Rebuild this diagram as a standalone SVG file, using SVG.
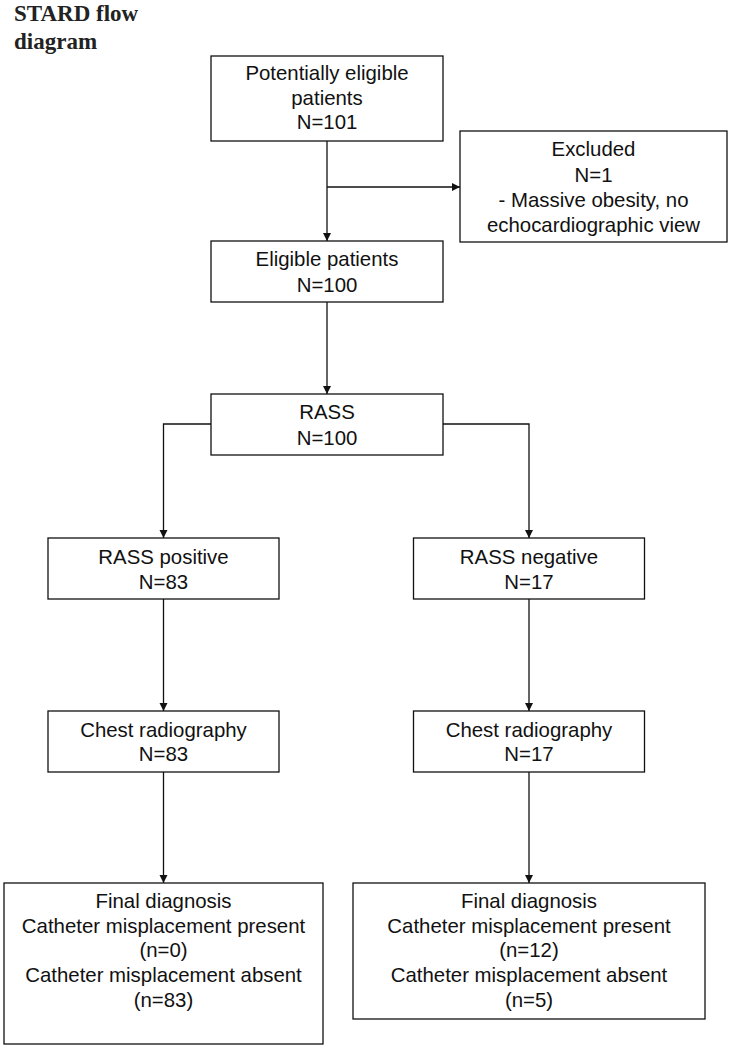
<svg xmlns="http://www.w3.org/2000/svg" width="730" height="1048" viewBox="0 0 730 1048">
<defs>
<style>
.box{fill:#fff;stroke:#111;stroke-width:1.3}
.t{font-family:"Liberation Sans",Arial,sans-serif;font-size:20.4px;fill:#111;text-anchor:middle}
.title{font-family:"Liberation Serif","Times New Roman",serif;font-weight:bold;font-size:23px;fill:#222}
.c{fill:none;stroke:#111;stroke-width:1.3}
</style>
<marker id="ah" markerUnits="userSpaceOnUse" markerWidth="9" markerHeight="9" refX="8" refY="4" orient="auto">
<path d="M0,0 L8,4 L0,8 z" fill="#111"/>
</marker>
</defs>
<rect width="730" height="1048" fill="#fff"/>
<g id="title">
<text class="title" x="14" y="20.5">STARD flow</text>
<text class="title" x="14" y="48.5">diagram</text>
</g>
<g id="connectors">
<path class="c" d="M327 141 V241" marker-end="url(#ah)"/>
<path class="c" d="M327 187 H460" marker-end="url(#ah)"/>
<path class="c" d="M327 302 V394" marker-end="url(#ah)"/>
<path class="c" d="M211 424 H163.5 V538" marker-end="url(#ah)"/>
<path class="c" d="M443 424 H529 V538" marker-end="url(#ah)"/>
<path class="c" d="M163.5 599 V711" marker-end="url(#ah)"/>
<path class="c" d="M163.5 772 V883" marker-end="url(#ah)"/>
<path class="c" d="M529 599 V711" marker-end="url(#ah)"/>
<path class="c" d="M529 772 V883" marker-end="url(#ah)"/>
</g>
<g id="potentially-eligible">
<rect class="box" x="211" y="56" width="232" height="85"/>
<text class="t" x="327" y="80">Potentially eligible</text>
<text class="t" x="327" y="104.5">patients</text>
<text class="t" x="327" y="129">N=101</text>
</g>
<g id="excluded">
<rect class="box" x="460" y="131" width="267" height="111"/>
<text class="t" x="593.5" y="156">Excluded</text>
<text class="t" x="593.5" y="181.5">N=1</text>
<text class="t" x="593.5" y="207">- Massive obesity, no</text>
<text class="t" x="593.5" y="232">echocardiographic view</text>
</g>
<g id="eligible">
<rect class="box" x="211" y="241" width="232" height="61"/>
<text class="t" x="327" y="266">Eligible patients</text>
<text class="t" x="327" y="291.5">N=100</text>
</g>
<g id="rass">
<rect class="box" x="211" y="394" width="232" height="61"/>
<text class="t" x="327" y="419">RASS</text>
<text class="t" x="327" y="444.5">N=100</text>
</g>
<g id="rass-positive">
<rect class="box" x="48" y="538" width="231" height="61"/>
<text class="t" x="163.5" y="564">RASS positive</text>
<text class="t" x="163.5" y="589">N=83</text>
</g>
<g id="rass-negative">
<rect class="box" x="413.5" y="538" width="231" height="61"/>
<text class="t" x="529" y="564">RASS negative</text>
<text class="t" x="529" y="589">N=17</text>
</g>
<g id="chest-left">
<rect class="box" x="48" y="711" width="231" height="61"/>
<text class="t" x="163.5" y="736.5">Chest radiography</text>
<text class="t" x="163.5" y="761">N=83</text>
</g>
<g id="chest-right">
<rect class="box" x="413.5" y="711" width="231" height="61"/>
<text class="t" x="529" y="736.5">Chest radiography</text>
<text class="t" x="529" y="761">N=17</text>
</g>
<g id="final-left">
<rect class="box" x="4" y="883" width="319" height="161"/>
<text class="t" x="163.5" y="907.5">Final diagnosis</text>
<text class="t" x="163.5" y="932.5">Catheter misplacement present</text>
<text class="t" x="163.5" y="957">(n=0)</text>
<text class="t" x="163.5" y="982">Catheter misplacement absent</text>
<text class="t" x="163.5" y="1006.5">(n=83)</text>
</g>
<g id="final-right">
<rect class="box" x="353" y="883" width="352" height="136"/>
<text class="t" x="529" y="907.5">Final diagnosis</text>
<text class="t" x="529" y="932.5">Catheter misplacement present</text>
<text class="t" x="529" y="957">(n=12)</text>
<text class="t" x="529" y="982">Catheter misplacement absent</text>
<text class="t" x="529" y="1006.5">(n=5)</text>
</g>
</svg>
